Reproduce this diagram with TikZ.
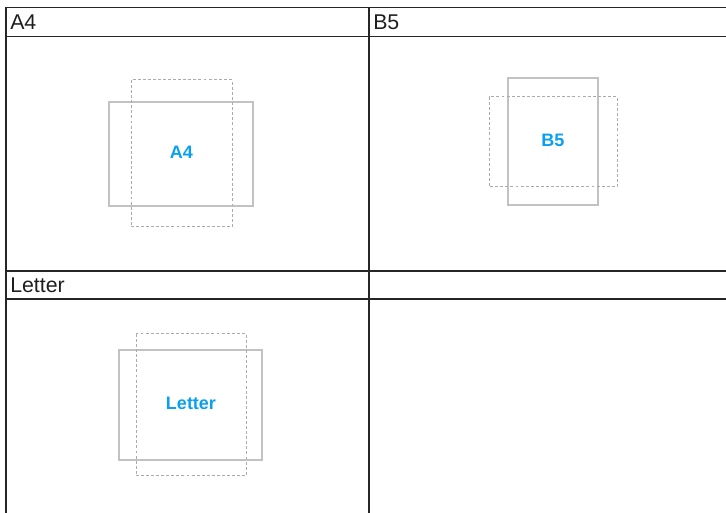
\documentclass[tikz,border=0pt]{standalone}
\usepackage{fontspec}
\setmainfont{Liberation Sans}
\usetikzlibrary{positioning}
\definecolor{labelblue}{HTML}{0AA0F0}
\definecolor{framegray}{HTML}{C2C2C2}
\definecolor{dashgray}{HTML}{ABABAB}
\definecolor{rulegray}{HTML}{262626}

\begin{document}
\begin{tikzpicture}[
  x=0.75pt, y=-0.75pt,
  rule/.style={draw=rulegray, line width=1.1pt},
  sheet/.style={draw=framegray, line width=0.9pt},
  feed/.style={draw=dashgray, line width=0.75pt, dash pattern=on 2.2pt off 1.6pt},
  head/.style={anchor=west, inner sep=0pt, font=\fontsize{16}{19}\selectfont, text=black!88},
  size/.style={inner sep=0pt, font=\fontsize{13.5}{16}\selectfont\bfseries, text=labelblue}
]
\useasboundingbox (0,0) rectangle (726,513);

% table rules
\foreach \y in {7.5,36.5,271,299}
  \draw[rule] (6,\y) -- (726,\y);
\foreach \x in {6,369}
  \draw[rule] (\x,7.5) -- (\x,513);

% row headers
\node[head] (hA4) at (10,22) {A4};
\node[head] (hB5) at (373,22) {B5};
\node[head] (hLetter) at (10,285) {Letter};

% A4
\draw[sheet] (109,102) rectangle (253,206);
\draw[feed] (131,80) rectangle (232,227);
\node[size] (a4) at (181.5,152) {A4};

% B5
\draw[sheet] (508,78) rectangle (598,205);
\draw[feed] (489,97) rectangle (617,187);
\node[size] (b5) at (553,140) {B5};

% Letter
\draw[sheet] (119,350) rectangle (262,460);
\draw[feed] (136,334) rectangle (246,476);
\node[size] (letter) at (191,403.5) {Letter};
\end{tikzpicture}
\end{document}
